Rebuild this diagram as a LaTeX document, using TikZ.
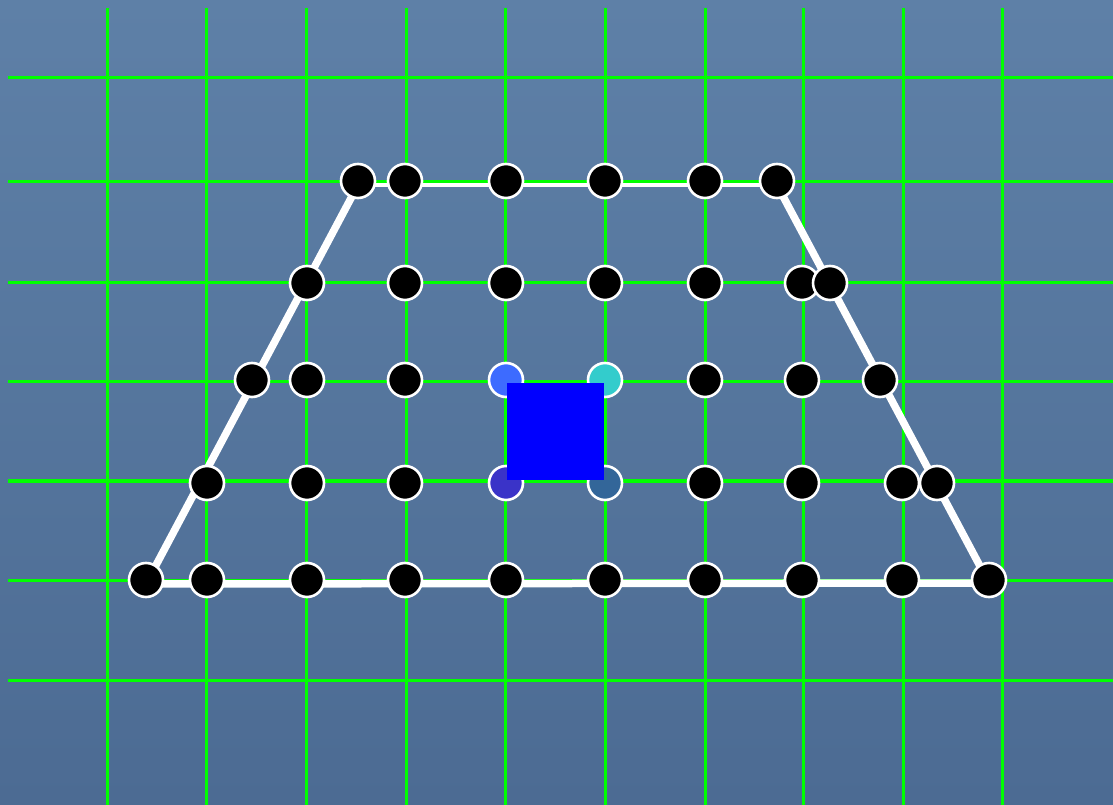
\documentclass[tikz,border=0pt]{standalone}
\usetikzlibrary{calc}
\definecolor{bgtop}{HTML}{5E80A7}
\definecolor{bgbot}{HTML}{4C6B93}
\definecolor{gridg}{HTML}{00FF00}
\definecolor{dotA}{HTML}{3D6BFF}
\definecolor{dotB}{HTML}{33CCCC}
\definecolor{dotC}{HTML}{3A33C8}
\definecolor{dotD}{HTML}{336699}
\definecolor{sqblue}{HTML}{0000FF}
\tikzset{
  gridline/.style={draw=gridg, line width=3pt},
  edge/.style={draw=white, line width=7.5pt, line cap=butt},
  dot/.style={circle, draw=white, line width=2.6pt, fill=black, minimum size=34pt, inner sep=0pt},
  sq/.style={fill=sqblue, draw=none, minimum size=97pt, inner sep=0pt}
}
\begin{document}
\begin{tikzpicture}[x=1pt,y=-1pt]
\useasboundingbox (0,0) rectangle (1113,805);
\shade[top color=bgtop, bottom color=bgbot] (0,0) rectangle (1113,805);
% grid
\foreach \x in {107,206,306,406,505,605,705,803,903,1002}
  \draw[gridline] (\x,8) -- (\x,805);
\foreach \y in {78,182,282,381,580,680}
  \draw[gridline] (8,\y) -- (1113,\y);
\draw[gridline, line width=3.6pt] (8,481) -- (1113,481);
% trapezoid corners
\coordinate (tl) at (358,185);
\coordinate (tr) at (777,185);
\coordinate (br) at (989,583);
\coordinate (bl) at (146,584);
\draw[draw=white, line width=3.2pt] (tl) -- (tr);
\draw[edge] (tr) -- (br);
\draw[edge] (bl) -- (br);
\draw[edge] (bl) -- (tl);
% dots row A
\foreach \x [count=\i] in {358,405,506,605,705,777}
  \node[dot] (a\i) at (\x,181) {};
% row B
\foreach \x [count=\i] in {307,405,506,605,705,802,830}
  \node[dot] (b\i) at (\x,283) {};
% row C
\foreach \x [count=\i] in {252,307,405}
  \node[dot] (c\i) at (\x,380) {};
\node[dot, fill=dotA] (c4) at (506,380) {};
\node[dot, fill=dotB] (c5) at (605,380) {};
\foreach \x [count=\i from 6] in {705,802,880}
  \node[dot] (c\i) at (\x,380) {};
% row D
\foreach \x [count=\i] in {207,307,405}
  \node[dot] (d\i) at (\x,483) {};
\node[dot, fill=dotC] (d4) at (506,483) {};
\node[dot, fill=dotD] (d5) at (605,483) {};
\foreach \x [count=\i from 6] in {705,802,902,937}
  \node[dot] (d\i) at (\x,483) {};
% row E
\foreach \x [count=\i] in {146,207,307,405,506,605,705,802,902,989}
  \node[dot] (e\i) at (\x,580) {};
% blue square
\node[sq] (square) at (555.5,431.5) {};
\end{tikzpicture}
\end{document}
